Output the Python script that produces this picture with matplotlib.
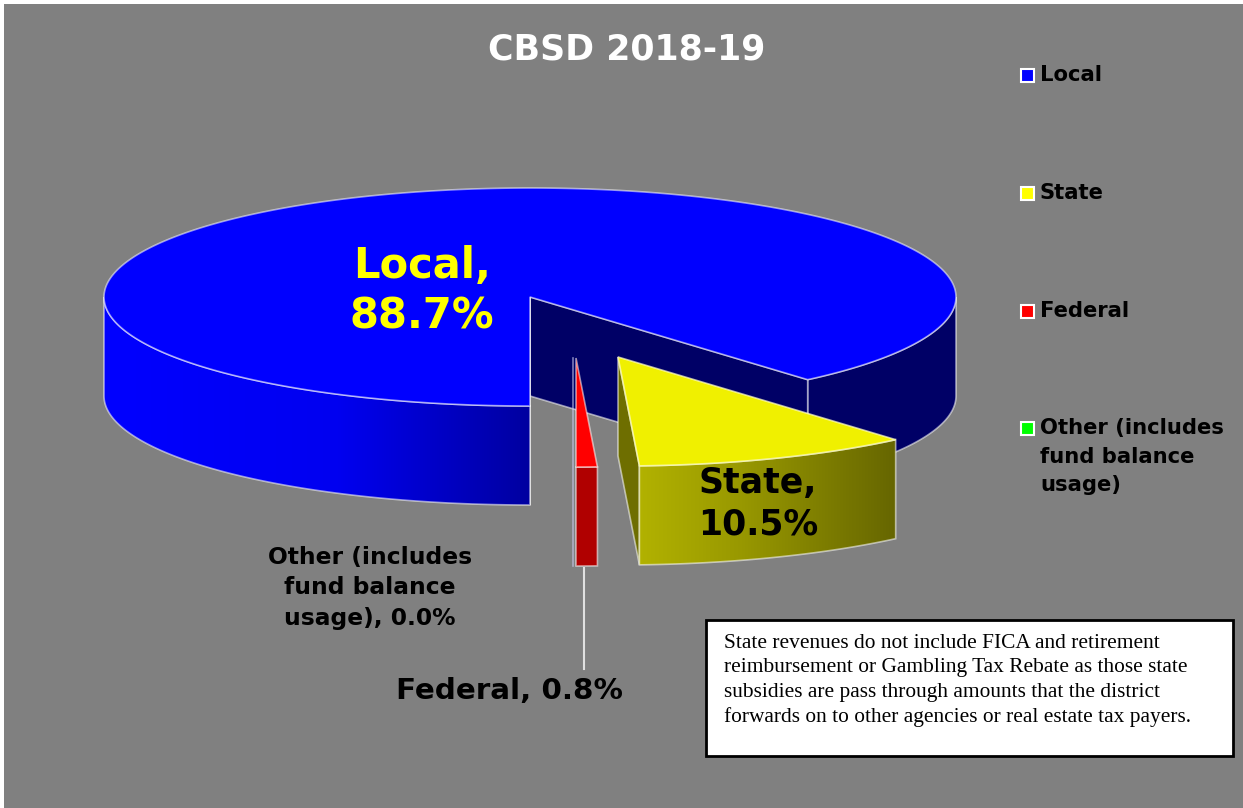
#!/usr/bin/env python3
"""
CBSD 2018-19 revenue sources, drawn as an exploded 3D pie
"""

import numpy as np
import matplotlib.pyplot as plt
from matplotlib.colors import LinearSegmentedColormap
from matplotlib.patches import Polygon, Rectangle

# revenue shares in percent
sources = ['Local', 'State', 'Federal', 'Other']
shares = [88.7, 10.5, 0.8, 0.0]
legend_labels = ['Local', 'State', 'Federal', 'Other (includes\nfund balance\nusage)']
legend_colors = ['#0000ff', '#ffff00', '#ff0000', '#00ff00']
title = 'CBSD 2018-19'
note_lines = [
    'State revenues do not include FICA and retirement',
    'reimbursement or Gambling Tax Rebate as those state',
    'subsidies are pass through amounts that the district',
    'forwards on to other agencies or real estate tax payers.',
]

# pie geometry, in screen pixels
CX, CY = 530, 297
RX, RY = 426, 109
DEPTH = 99
START = 90
OFFSETS = {'Local': (0, 0), 'State': (88, 60), 'Federal': (46, 61), 'Other': (43, 61)}
EDGE = (1, 1, 1, 0.55)


def arc(t0, t1, dx=0, dy=0, n=120):
    """Points on the pie rim between two angles, in degrees"""
    t = np.radians(np.linspace(t0, t1, n))
    return np.column_stack([CX + dx + RX * np.cos(t), CY + dy + RY * np.sin(t)])


def flat_fill(ax, pts, color, z):
    ax.add_patch(Polygon(pts, closed=True, facecolor=color, edgecolor=EDGE, linewidth=1.2, zorder=z))


def gradient_fill(ax, pts, x0, x1, stops, z):
    """Polygon with a left to right colour gradient"""
    cmap = LinearSegmentedColormap.from_list('wall', stops)
    poly = Polygon(pts, closed=True, facecolor='none', edgecolor=EDGE, linewidth=1.2, zorder=z + 0.1)
    ax.add_patch(poly)
    ymin, ymax = pts[:, 1].min(), pts[:, 1].max()
    im = ax.imshow(np.linspace(0, 1, 256).reshape(1, -1), cmap=cmap, aspect='auto',
                   extent=[x0, x1, ymax, ymin], zorder=z, interpolation='bilinear')
    im.set_clip_path(poly)


def wall(t0, t1, dx=0, dy=0):
    top = arc(t0, t1, dx, dy)
    return np.vstack([top, top[::-1] + [0, DEPTH]])


def draw_pie(ax):
    # slice angles follow the shares, clockwise from the bottom of the pie
    edges = START + np.cumsum([0] + shares) * 3.6
    t_local = edges[0], edges[1]
    t_state = edges[1], edges[2]
    t_fed = edges[2], edges[3]
    t_other = edges[3], edges[4]

    # local slice: back faces first, then the rim and the top
    end_pt = arc(t_local[1], t_local[1], n=1)[0]
    flat_fill(ax, wall(360, t_local[1]), '#000066', 1)
    flat_fill(ax, np.array([[CX, CY], end_pt, end_pt + [0, DEPTH], [CX, CY + DEPTH]]), '#000066', 1.2)
    flat_fill(ax, np.array([[CX, CY], [CX, CY + RY], [CX, CY + RY + DEPTH], [CX, CY + DEPTH]]), '#000066', 1.3)
    gradient_fill(ax, wall(START, 180), CX - RX, CX,
                  [(0, '#0000ff'), (0.55, '#0000f0'), (0.8, '#0000c4'), (1, '#0000a0')], 1.5)
    flat_fill(ax, np.vstack([[[CX, CY]], arc(*t_local, n=400)]), '#0000ff', 2)

    # state slice
    dx, dy = OFFSETS['State']
    outer = arc(*t_state, dx, dy)
    apex = np.array([CX + dx, CY + dy])
    near = outer[-1]
    flat_fill(ax, np.array([apex, near, near + [0, DEPTH], apex + [0, DEPTH]]), '#6e6e00', 3)
    gradient_fill(ax, wall(*t_state, dx, dy), near[0], outer[0][0],
                  [(0, '#b2b200'), (0.4, '#989800'), (1, '#666600')], 3.2)
    ax.add_patch(Polygon(np.vstack([[apex], outer]), closed=True, facecolor='#f0f000',
                         edgecolor=(1, 1, 0.8, 0.7), linewidth=1.2, zorder=3.5))

    # zero share slice still leaves a thin line behind the federal one
    dx, dy = OFFSETS['Other']
    other = arc(*t_other, dx, dy, n=2)[0]
    ax.plot([other[0], other[0]], [CY + dy, other[1] + DEPTH], color=(0.8, 0.8, 0.95, 0.6), lw=1.2, zorder=4)

    # federal slice
    dx, dy = OFFSETS['Federal']
    outer = arc(*t_fed, dx, dy, n=20)
    apex = np.array([CX + dx, CY + dy])
    flat_fill(ax, wall(*t_fed, dx, dy), '#b00000', 5)
    flat_fill(ax, np.vstack([[apex], outer]), '#ff0000', 5.5)


def main():
    fig = plt.figure(figsize=(12.43, 8.08), dpi=100, facecolor='white')
    ax = fig.add_axes([0, 0, 1, 1])
    ax.axis('off')

    ax.add_patch(Rectangle((4, 4), 1243, 808, facecolor='#808080', edgecolor='none', zorder=0))
    draw_pie(ax)

    # leader line for the federal label
    ax.plot([584, 584], [568, 669], color='#e0e0e0', lw=1.5, zorder=2.5)

    ax.text(627, 50, title, color='white', fontsize=25, fontweight='bold', ha='center', va='center', zorder=10)

    # data labels
    ax.text(422, 291, f'{sources[0]},\n{shares[0]:.1f}%', color='#ffff00', fontsize=30, fontweight='bold',
            ha='center', va='center', linespacing=1.27, zorder=10)
    ax.text(758, 504, f'{sources[1]},\n{shares[1]:.1f}%', color='black', fontsize=25, fontweight='bold',
            ha='center', va='center', linespacing=1.28, zorder=10)
    ax.text(370, 588, f'Other (includes\nfund balance\nusage), {shares[3]:.1f}%', color='black', fontsize=16.8,
            fontweight='bold', ha='center', va='center', linespacing=1.43, zorder=10)
    ax.text(509, 691, f'{sources[2]}, {shares[2]:.1f}%', color='black', fontsize=21.2, fontweight='bold',
            ha='center', va='center', zorder=10)

    # legend
    for label, color, y in zip(legend_labels, legend_colors, [75, 193, 311, 428]):
        ax.add_patch(Rectangle((1021, y - 6.5), 13, 13, facecolor=color, edgecolor='white', linewidth=1.5, zorder=10))
        ax.text(1040, y - 10, label, color='black', fontsize=15.2, fontweight='bold', ha='left', va='top',
                linespacing=1.54, zorder=10)

    # note box
    ax.add_patch(Rectangle((706, 620), 527, 136, facecolor='white', edgecolor='black', linewidth=2, zorder=10))
    for i, line in enumerate(note_lines):
        ax.text(724, 643 + i * 24.7, line, color='black', fontsize=15.4, family='Liberation Serif',
                ha='left', va='center', zorder=11)

    ax.set_xlim(0, 1243)
    ax.set_ylim(808, 0)
    plt.savefig('out.png', dpi=100)


if __name__ == "__main__":
    main()
